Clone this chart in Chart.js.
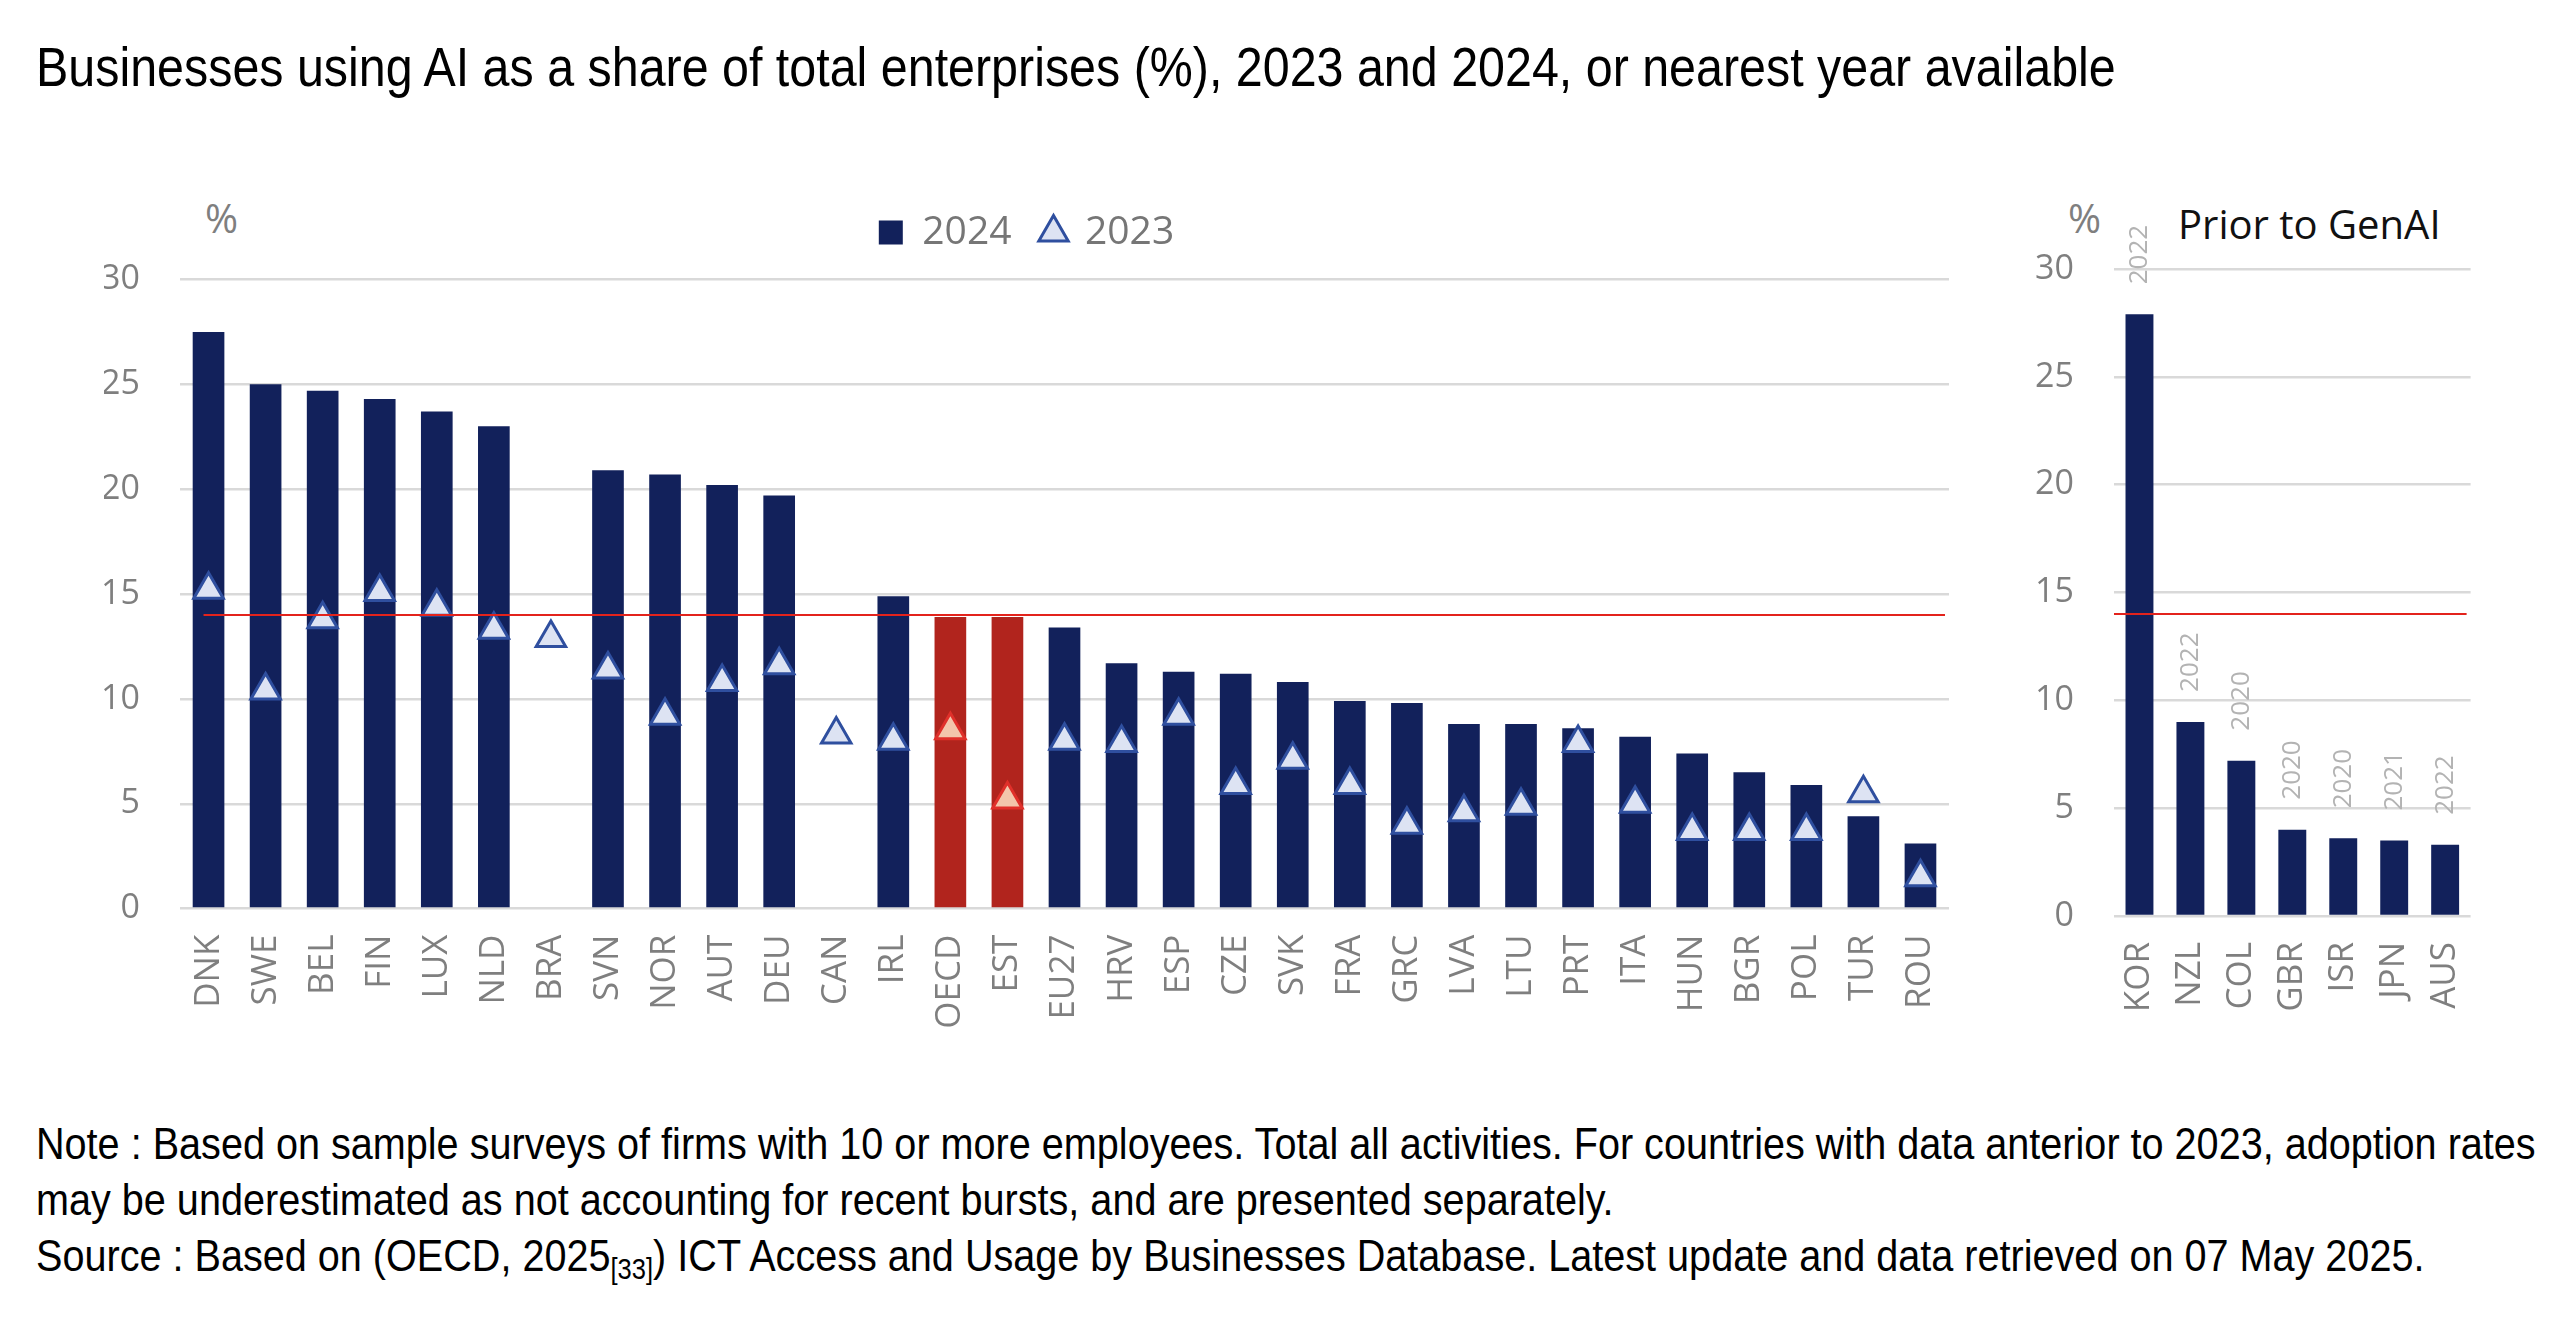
<!DOCTYPE html>
<html>
<head>
<meta charset="utf-8">
<script src="https://cdn.jsdelivr.net/npm/chart.js@4.4.1/dist/chart.umd.min.js"></script>
<style>
  body { margin: 0; background: #fff; width: 2560px; height: 1330px; position: relative; overflow: hidden; }
  .title { position: absolute; left: 36px; top: 40px; font: 55px/55px "Liberation Sans", Arial, sans-serif; color: #000; white-space: nowrap; transform: scaleX(0.88); transform-origin: 0 0; }
  .note { position: absolute; left: 36px; top: 1116px; font: 45px/56px "Liberation Sans", Arial, sans-serif; color: #000; white-space: nowrap; transform: scaleX(0.88); transform-origin: 0 0; }
  .note sub { font-size: 29px; vertical-align: -8px; line-height: 0; }
  .pct { position: absolute; top: 198px; font: 40px/40px "Open Sans", sans-serif; color: #7f7f7f; }
  .panel-title { position: absolute; left: 2178px; top: 204px; font: 40px/40px "Open Sans", sans-serif; color: #111; white-space: nowrap; }
  canvas { position: absolute; top: 180px; }
</style>
</head>
<body>
<div class="title">Businesses using AI as a share of total enterprises (%), 2023 and 2024, or nearest year available</div>
<div class="pct" style="left:205px">%</div>
<div class="pct" style="left:2068px">%</div>
<div class="panel-title">Prior to GenAI</div>
<canvas id="mainChart" width="2052" height="900" style="left:0"></canvas>
<canvas id="priorChart" width="526" height="900" style="left:1990px"></canvas>
<div class="note">Note : Based on sample surveys of firms with 10 or more employees. Total all activities. For countries with data anterior to 2023, adoption rates<br>may be underestimated as not accounting for recent bursts, and are presented separately.<br>Source : Based on (OECD, 2025<sub>[33]</sub>) ICT Access and Usage by Businesses Database. Latest update and data retrieved on 07 May 2025.</div>

<script>
// data
const countries = ["DNK", "SWE", "BEL", "FIN", "LUX", "NLD", "BRA", "SVN", "NOR", "AUT", "DEU", "CAN", "IRL", "OECD", "EST",
  "EU27", "HRV", "ESP", "CZE", "SVK", "FRA", "GRC", "LVA", "LTU", "PRT", "ITA", "HUN", "BGR", "POL", "TUR", "ROU"];
const share2024 = [27.5, 25.0, 24.7, 24.3, 23.7, 23.0, null, 20.9, 20.7, 20.2, 19.7, null, 14.9, 13.9, 13.9,
  13.4, 11.7, 11.3, 11.2, 10.8, 9.9, 9.8, 8.8, 8.8, 8.6, 8.2, 7.4, 6.5, 5.9, 4.4, 3.1];
const share2023 = [15.2, 10.4, 13.8, 15.1, 14.4, 13.3, 12.9, 11.4, 9.2, 10.8, 11.6, 8.3, 8.0, 8.5, 5.2,
  8.0, 7.9, 9.2, 5.9, 7.1, 5.9, 4.0, 4.6, 4.9, 7.9, 5.0, 3.7, 3.7, 3.7, 5.5, 1.5];
const highlighted = ["OECD", "EST"];

const priorCountries = ["KOR", "NZL", "COL", "GBR", "ISR", "JPN", "AUS"];
const priorShare = [27.9, 9.0, 7.2, 4.0, 3.6, 3.5, 3.3];
const priorYears = ["2022", "2022", "2020", "2020", "2020", "2021", "2022"];

const oecdAverage = 14.0;

const NAVY = "#12215b";
const RED = "#b1241d";
const GRID = "#d9d9d9";
const TICK = "#7f7f7f";
const tickFont = { family: "Open Sans", size: 34 };
const labelFont = { family: "Open Sans", size: 35 };

// legend sits 17.5px higher than Chart.js would put it
const legendGap = {
  id: "legendGap",
  beforeLayout(chart) {
    const lg = chart.legend;
    if (lg && !lg._gapDone) {
      const fit = lg.fit;
      lg.fit = function () { fit.call(this); this.height += 17.5; };
      lg._gapDone = true;
    }
  }
};

const avgLine = {
  id: "avgLine",
  afterDatasetsDraw(chart, args, opts) {
    const { ctx, chartArea } = chart;
    const y = chart.scales.y.getPixelForValue(opts.value);
    const x0 = opts.fromFirst ? chart.scales.x.getPixelForValue(0) - 5 : chartArea.left;
    ctx.save();
    ctx.strokeStyle = "#e3231c";
    ctx.lineWidth = 2;
    ctx.beginPath();
    ctx.moveTo(x0, y);
    ctx.lineTo(chartArea.right - 4, y);
    ctx.stroke();
    ctx.restore();
  }
};

const yearLabels = {
  id: "yearLabels",
  afterDatasetsDraw(chart) {
    const { ctx } = chart;
    const meta = chart.getDatasetMeta(0);
    ctx.save();
    ctx.fillStyle = "#b3b3b3";
    ctx.font = "26px 'Open Sans'";
    ctx.textAlign = "left";
    ctx.textBaseline = "middle";
    meta.data.forEach((bar, i) => {
      ctx.save();
      ctx.translate(bar.x, bar.y - 30);
      ctx.rotate(-Math.PI / 2);
      ctx.fillText(priorYears[i], 0, 0);
      ctx.restore();
    });
    ctx.restore();
  }
};

function yAxis(width) {
  return {
    min: 0, max: 30,
    ticks: { stepSize: 5, color: TICK, font: tickFont, padding: 40 },
    grid: { color: GRID, lineWidth: 2.5, drawTicks: false },
    border: { display: false },
    afterFit(s) { s.width = width; }
  };
}

function xAxis(height) {
  return {
    ticks: { color: TICK, font: labelFont, autoSkip: false, maxRotation: 90, minRotation: 90, padding: 26 },
    grid: { display: false, drawTicks: false },
    border: { display: false },
    afterFit(s) { s.height = height; }
  };
}

new Chart(document.getElementById("mainChart"), {
  type: "bar",
  data: {
    labels: countries,
    datasets: [{
      label: "2024",
      data: share2024,
      backgroundColor: countries.map(c => highlighted.includes(c) ? RED : NAVY),
      pointStyle: "rect",
      categoryPercentage: 1,
      barPercentage: 0.555,
      order: 1
    }, {
      type: "line",
      label: "2023",
      data: share2023,
      showLine: false,
      pointStyle: "triangle",
      pointRadius: 17,
      pointHoverRadius: 17,
      pointBorderWidth: 3,
      pointBackgroundColor: countries.map(c => highlighted.includes(c) ? "#f3c6ab" : "#dde3f3"),
      pointBorderColor: countries.map(c => highlighted.includes(c) ? "#e0302a" : "#2f4f9f"),
      order: 0
    }]
  },
  options: {
    responsive: false,
    devicePixelRatio: 1,
    animation: false,
    layout: { padding: { top: 3, left: 104, right: 103, bottom: 0 } },
    scales: { x: xAxis(171.4), y: yAxis(76) },
    plugins: {
      legend: {
        labels: {
          usePointStyle: true,
          boxHeight: 24,
          boxWidth: 24,
          padding: 30,
          color: "#767676",
          font: { family: "Open Sans", size: 39 },
          sort: (a, b) => a.datasetIndex - b.datasetIndex
        }
      },
      tooltip: { enabled: false },
      avgLine: { value: oecdAverage, fromFirst: true }
    }
  },
  plugins: [legendGap, avgLine]
});

new Chart(document.getElementById("priorChart"), {
  type: "bar",
  data: {
    labels: priorCountries,
    datasets: [{
      label: "Prior to GenAI",
      data: priorShare,
      backgroundColor: NAVY,
      categoryPercentage: 1,
      barPercentage: 0.548
    }]
  },
  options: {
    responsive: false,
    devicePixelRatio: 1,
    animation: false,
    layout: { padding: { top: 89, left: 0, right: 40, bottom: 0 } },
    scales: { x: xAxis(164), y: yAxis(124) },
    plugins: {
      legend: { display: false },
      tooltip: { enabled: false },
      avgLine: { value: oecdAverage, fromFirst: false }
    }
  },
  plugins: [avgLine, yearLabels]
});
</script>
</body>
</html>
